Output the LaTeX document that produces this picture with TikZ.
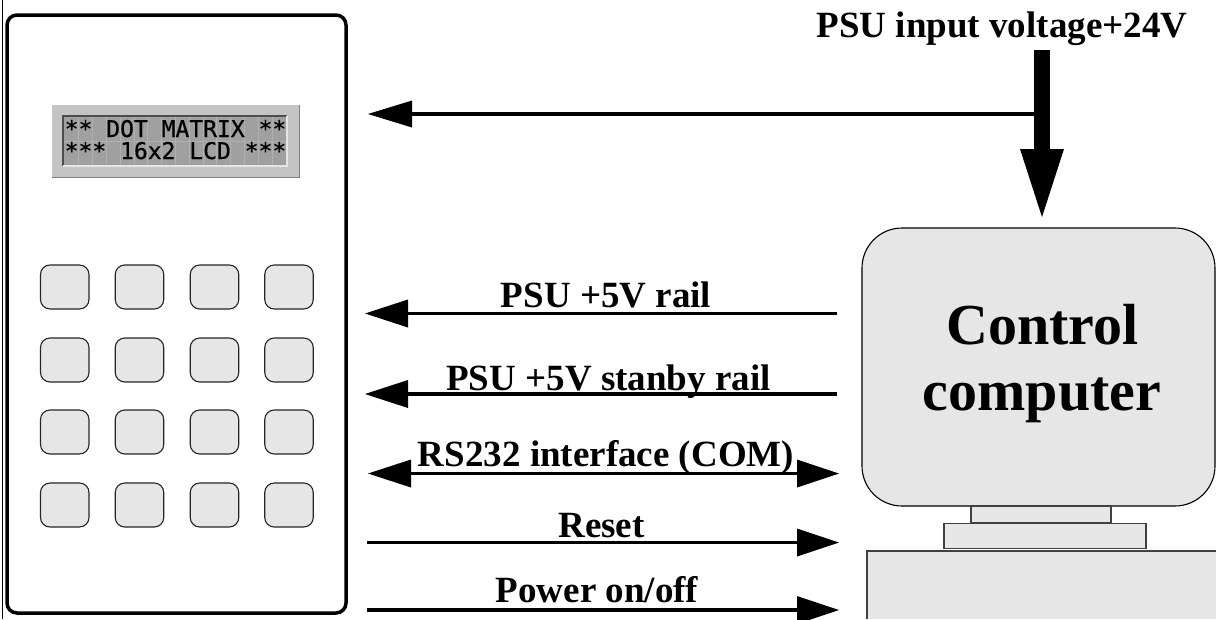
\documentclass[tikz,border=0pt]{standalone}
\usepackage{fontspec}
\setmainfont{Liberation Serif}
\newfontfamily\lcdfont[FakeBold=0.6]{DejaVu Sans Mono}
\definecolor{boxgray}{HTML}{E6E6E6}
\definecolor{lcdouter}{HTML}{C4C4C4}
\definecolor{lcdinner}{HTML}{A0A0A0}
\begin{document}
\begin{tikzpicture}[x=1pt,y=-1pt,
  keybtn/.style={draw=black!85,fill=boxgray,line width=1.1pt,rounded corners=9.5pt,minimum width=48.5pt,minimum height=44pt,inner sep=0pt},
  gbox/.style={draw=black!75,fill=boxgray,line width=1.1pt},
  lab/.style={font=\bfseries\fontsize{37}{40}\selectfont,inner sep=0pt,anchor=base},
  big/.style={font=\bfseries\fontsize{58}{66}\selectfont,inner sep=0pt,anchor=base},
  lcdtxt/.style={font=\lcdfont\fontsize{23}{23}\selectfont,inner sep=0pt,anchor=base},
  wire/.style={line width=3.4pt},
  head/.style={fill=black}]
\useasboundingbox (0,0) rectangle (1216,619);
\fill[white] (0,0) rectangle (1216,619);
\draw[line width=1pt] (2.5,0) -- (2.5,619);
\draw[line width=3.5pt,rounded corners=10pt,fill=white] (7,15) rectangle (346,613);
% LCD
\fill[lcdouter] (52,105) rectangle (299,177);
\draw[gray,line width=1pt] (52,177) -- (299,177) -- (299,105);
\fill[lcdinner] (63,116) rectangle (287,166);
\draw[black!70,line width=1.4pt] (63,166) -- (63,116) -- (287,116);
\draw[white!90!black,line width=1.4pt] (63,166) -- (287,166) -- (287,116);
\foreach \i in {1,...,15} \draw[lcdouter!90!black,line width=.7pt] ({65+\i*13.8},117) -- ({65+\i*13.8},165);
\draw[lcdouter!90!black,line width=.7pt] (64,141) -- (286,141);
\node[lcdtxt] (l1) at (175.5,137) {** DOT MATRIX **};
\node[lcdtxt] (l2) at (175.5,159) {*** 16x2 LCD ***};
% keys
\foreach \r/\y in {1/287,2/360,3/432,4/505}
 \foreach \c/\x in {1/64.75,2/139.5,3/214.5,4/289}
  \node[keybtn] (k\r\c) at (\x,\y) {};
% computer
\node[gbox,draw=black,rounded corners=40pt,minimum width=353pt,minimum height=278pt,inner sep=0pt] (pc) at (1038.5,367) {};
\node[big] (pclab1) at (1042.5,344) {Control};
\node[big] (pclab2) at (1042,410) {computer};
\node[gbox,minimum width=140pt,minimum height=17pt,inner sep=0pt] (neck) at (1041,514.5) {};
\node[gbox,minimum width=202pt,minimum height=25pt,inner sep=0pt] (stand) at (1045,536) {};
\fill[boxgray] (867,551) rectangle (1216,619);
\draw[black!75,line width=1.1pt] (1216,551) -- (867,551) -- (867,619);
% connectors
\fill (1034,50) rectangle (1050,150);
\fill[head] (1020,149) -- (1064,149) -- (1042,217) -- cycle;
\draw[wire] (412,114) -- (1035,114);
\fill[head] (368,114) -- (412,100.5) -- (412,127.5) -- cycle;
\foreach \y in {313.5,394}{
 \draw[wire] (408,\y) -- (837,\y);
 \fill[head] (365,\y) -- (408,\y-14) -- (408,\y+14) -- cycle;}
\draw[wire] (411,473.5) -- (797,473.5);
\fill[head] (368,473.5) -- (411,459.5) -- (411,487.5) -- cycle;
\fill[head] (839,473.5) -- (797,459.5) -- (797,487.5) -- cycle;
\foreach \y in {542.5,610}{
 \draw[wire] (367,\y) -- (797,\y);
 \fill[head] (839,\y) -- (797,\y-14) -- (797,\y+14) -- cycle;}
% labels
\node[lab] (t0) at (1002,37) {PSU input voltage+24V};
\node[lab] (t1) at (606,307.5) {PSU +5V rail};
\node[lab] (t2) at (608.5,390) {PSU +5V stanby rail};
\node[lab] (t3) at (606,466) {RS232 interface (COM)};
\node[lab] (t4) at (601.5,537) {Reset};
\node[lab] (t5) at (597,602) {Power on/off};
\end{tikzpicture}
\end{document}
